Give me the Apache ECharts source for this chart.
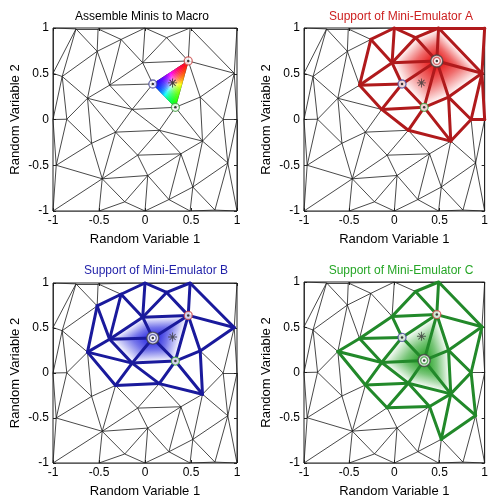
<!DOCTYPE html>
<html><head><meta charset="utf-8">
<script src="https://cdn.jsdelivr.net/npm/echarts/dist/echarts.min.js"></script>
<style>html,body{margin:0;padding:0;background:#fff}#c{width:491px;height:499px}</style>
</head><body><div id="c"></div>
<script>
// ---- data ----
const nodeX = [-1, 1, 1, -1, -0.75, -0.51, 0.0, 0.49, 0.97, 1.0, -1.0, -1.0, -0.965, -0.5, 0.0, 0.76, -0.9, -0.52, -0.26, -0.025, 0.47, 0.235, -0.385, 0.085, 0.33, -0.625, -0.14, 0.6, 0.85, -0.32, 0.155, 0.625, -0.08, 0.39, 0.9, -0.465, 0.03, 0.52, 0.26, -0.22, -0.58, 0.49, -0.85];
const nodeY = [1, 1, -1, -1, 0.99, 0.99, 1.0, 1.0, 0.505, 0.0, 0.505, 0.0, -0.5, -1.0, -1.0, -0.99, 0.47, 0.745, 0.875, 0.62, 0.64, 0.895, 0.375, 0.388, 0.133, 0.232, 0.11, 0.245, 0.0, -0.138, -0.118, -0.236, -0.39, -0.375, -0.475, -0.648, -0.612, -0.738, -0.875, -0.9, -0.26, -1.0, 0.003];
const triangles = [
[0,4,10],[4,16,10],[4,17,16],[4,5,17],[5,18,17],[5,6,18],[6,19,18],[6,21,19],[6,7,21],[7,20,21],
[19,21,20],[7,8,20],[7,1,8],[20,8,27],[19,20,23],[20,24,23],[20,27,24],[19,23,22],[18,19,22],[17,18,22],
[17,22,25],[16,17,25],[10,16,11],[11,16,42],[16,25,42],[25,40,42],[42,40,12],[11,42,12],[12,40,35],[25,29,40],
[29,35,40],[22,26,25],[25,26,29],[22,23,26],[23,24,26],[26,24,30],[26,30,29],[29,30,32],[29,32,35],[24,31,30],
[24,27,31],[8,28,27],[8,9,28],[27,28,31],[28,34,31],[28,9,34],[9,2,34],[34,2,15],[31,34,37],[34,15,37],
[30,31,33],[31,37,33],[30,33,32],[32,33,36],[32,36,35],[33,38,36],[33,37,38],[37,41,38],[37,15,41],[38,41,14],
[36,38,14],[36,14,39],[35,36,39],[35,39,13],[35,13,3],[12,35,3],[13,14,39]
];
const emulatorNodes = [20, 23, 24]; // A, B, C
const starX = [0.3];
const starY = [0.4];
const tickValues = [-1, -0.5, 0, 0.5, 1];
const panelTitles = ['Assemble Minis to Macro', 'Support of Mini-Emulator A', 'Support of Mini-Emulator B', 'Support of Mini-Emulator C'];
const xName = 'Random Variable 1';
const yName = 'Random Variable 2';

// ---- styles ----
const FONT = 'Liberation Sans, Arial, sans-serif';
const grids = [
  {left: 53, top: 28, width: 184, height: 183},
  {left: 304, top: 28, width: 183, height: 183},
  {left: 53, top: 283, width: 184, height: 182},
  {left: 304, top: 282, width: 183, height: 183}
];
const titleCenters = [[137, 6], [396, 6], [151, 260], [396, 260]];
const titleColors = ['#000000', '#cc1f1f', '#1f1fa8', '#26a626'];
const thickColors = [null, '#b01a1c', '#1a1a9c', '#22892a'];
const hatRGB = [null, '228,0,0', '20,20,220', '20,155,20'];
const ringColors = ['#c84646', '#4a4a9a', '#3c9c3c'];

// ---- derived topology ----
function edgesOf(triIdxList) {
  const m = new Map();
  triIdxList.forEach(i => {
    const t = triangles[i];
    for (let k = 0; k < 3; k++) {
      const a = Math.min(t[k], t[(k + 1) % 3]), b = Math.max(t[k], t[(k + 1) % 3]);
      const key = a + '-' + b;
      if (!m.has(key)) m.set(key, [a, b]);
    }
  });
  return Array.from(m.values());
}
const allTri = triangles.map((t, i) => i);
function ringTriangles(k) { return allTri.filter(i => triangles[i].includes(k)); }
function supportTriangles(k) {
  const ring = new Set([k]);
  ringTriangles(k).forEach(i => triangles[i].forEach(v => ring.add(v)));
  return allTri.filter(i => triangles[i].some(v => ring.has(v)));
}
function lineData(edges) {
  return edges.map(([a, b]) => ({coords: [[nodeX[a], nodeY[a]], [nodeX[b], nodeY[b]]]}));
}
function triItem(i) {
  const t = triangles[i];
  return {value: [(nodeX[t[0]] + nodeX[t[1]] + nodeX[t[2]]) / 3, (nodeY[t[0]] + nodeY[t[1]] + nodeY[t[2]]) / 3, i]};
}

function hatRender(k, rgb) {
  return function (params, api) {
    const t = triangles[api.value(2)];
    const o = t.filter(v => v !== k);
    const K = api.coord([nodeX[k], nodeY[k]]);
    const P = api.coord([nodeX[o[0]], nodeY[o[0]]]);
    const Q = api.coord([nodeX[o[1]], nodeY[o[1]]]);
    const dx = Q[0] - P[0], dy = Q[1] - P[1];
    const s = ((K[0] - P[0]) * dx + (K[1] - P[1]) * dy) / (dx * dx + dy * dy);
    const F = [P[0] + s * dx, P[1] + s * dy];
    return {
      type: 'polygon', shape: {points: [K, P, Q]},
      style: {fill: new echarts.graphic.LinearGradient(K[0], K[1], F[0], F[1], [
        {offset: 0, color: 'rgba(' + rgb + ',1)'},
        {offset: 0.5, color: 'rgba(' + rgb + ',0.58)'},
        {offset: 1, color: 'rgba(' + rgb + ',0)'}], true)}
    };
  };
}

function rgbRender(params, api) {
  const [a, b, c] = emulatorNodes; // weights: A->red, B->blue, C->green
  const PA = api.coord([nodeX[a], nodeY[a]]);
  const PB = api.coord([nodeX[b], nodeY[b]]);
  const PC = api.coord([nodeX[c], nodeY[c]]);
  const N = 20, children = [];
  const pt = (wa, wb) => { const wc = 1 - wa - wb; return [wa * PA[0] + wb * PB[0] + wc * PC[0], wa * PA[1] + wb * PB[1] + wc * PC[1]]; };
  const col = (wa, wb) => {
    const wc = 1 - wa - wb; const m = Math.max(wa, wb, wc);
    return 'rgb(' + Math.round(255 * wa / m) + ',' + Math.round(255 * wc / m) + ',' + Math.round(255 * wb / m) + ')';
  };
  for (let i = 0; i < N; i++) {
    for (let j = 0; j < N - i; j++) {
      const p1 = [i / N, j / N], p2 = [(i + 1) / N, j / N], p3 = [i / N, (j + 1) / N];
      const cc = col((p1[0] + p2[0] + p3[0]) / 3, (p1[1] + p2[1] + p3[1]) / 3);
      children.push({type: 'polygon', shape: {points: [pt(...p1), pt(...p2), pt(...p3)]}, style: {fill: cc, stroke: cc, lineWidth: 0.6}});
      if (i + j < N - 1) {
        const q1 = [(i + 1) / N, j / N], q2 = [(i + 1) / N, (j + 1) / N], q3 = [i / N, (j + 1) / N];
        const dc = col((q1[0] + q2[0] + q3[0]) / 3, (q1[1] + q2[1] + q3[1]) / 3);
        children.push({type: 'polygon', shape: {points: [pt(...q1), pt(...q2), pt(...q3)]}, style: {fill: dc, stroke: dc, lineWidth: 0.6}});
      }
    }
  }
  return {type: 'group', children};
}

const asterisk = 'path://M0,4.5L10,4.5L10,5.5L0,5.5Z M4.5,0L5.5,0L5.5,10L4.5,10Z M1.3,2L2,1.3L8.7,8L8,8.7Z M8,1.3L8.7,2L2,8.7L1.3,8Z';

const xAxes = [], yAxes = [], series = [], titles = [];
const meshEdges = edgesOf(allTri);
grids.forEach((g, gi) => {
  const common = {gridIndex: gi, type: 'value', min: -1, max: 1, interval: 0.5,
    axisLine: {show: false, onZero: false}, splitLine: {show: false},
    axisTick: {show: true, inside: true, length: 3, lineStyle: {color: '#222', width: 1}}};
  xAxes.push(Object.assign({}, common, {position: 'bottom',
    axisLabel: {fontSize: 12, color: '#000', margin: 4, fontFamily: FONT},
    name: xName, nameLocation: 'middle', nameGap: 22,
    nameTextStyle: {fontSize: 13, color: '#000', fontFamily: FONT}}));
  xAxes.push(Object.assign({}, common, {position: 'top', axisLabel: {show: false}}));
  yAxes.push(Object.assign({}, common, {position: 'left',
    axisLabel: {fontSize: 12, color: '#000', margin: 4, fontFamily: FONT},
    name: yName, nameLocation: 'middle', nameGap: 31,
    nameTextStyle: {fontSize: 13, color: '#000', fontFamily: FONT}}));
  yAxes.push(Object.assign({}, common, {position: 'right', axisLabel: {show: false}}));
  const xi = gi * 2, yi = gi * 2;
  titles.push({text: panelTitles[gi], left: titleCenters[gi][0], top: titleCenters[gi][1], textAlign: 'center',
    textStyle: {fontSize: 12, fontWeight: 'normal', color: titleColors[gi], fontFamily: FONT}});

  series.push({type: 'lines', coordinateSystem: 'cartesian2d', xAxisIndex: xi, yAxisIndex: yi, silent: true, z: 2,
    lineStyle: {color: '#1a1a1a', width: 0.8, opacity: 1}, data: lineData(meshEdges)});

  if (gi === 0) {
    const abc = allTri.filter(i => emulatorNodes.every(v => triangles[i].includes(v)));
    series.push({type: 'custom', coordinateSystem: 'cartesian2d', xAxisIndex: xi, yAxisIndex: yi, silent: true, z: 3,
      renderItem: rgbRender, data: abc.map(triItem)});
  } else {
    const k = emulatorNodes[gi - 1];
    series.push({type: 'custom', coordinateSystem: 'cartesian2d', xAxisIndex: xi, yAxisIndex: yi, silent: true, z: 3,
      renderItem: hatRender(k, hatRGB[gi]), data: ringTriangles(k).map(triItem)});
    series.push({type: 'lines', coordinateSystem: 'cartesian2d', xAxisIndex: xi, yAxisIndex: yi, silent: true, z: 4,
      lineStyle: {color: thickColors[gi], width: 3, opacity: 1, cap: 'round', join: 'round'},
      data: lineData(edgesOf(supportTriangles(k)))});
  }
  series.push({type: 'scatter', xAxisIndex: xi, yAxisIndex: yi, silent: true, z: 5, symbol: asterisk, symbolSize: 9,
    itemStyle: {color: gi === 0 ? '#111' : '#333'}, data: starX.map((x, i) => [x, starY[i]])});
  emulatorNodes.forEach((k, ei) => {
    const hl = gi === ei + 1;
    if (hl) {
      series.push({type: 'scatter', xAxisIndex: xi, yAxisIndex: yi, silent: true, z: 6, symbol: 'circle', symbolSize: 12,
        itemStyle: {color: '#fff', borderColor: '#444', borderWidth: 1.4}, data: [[nodeX[k], nodeY[k]]]});
    }
    series.push({type: 'scatter', xAxisIndex: xi, yAxisIndex: yi, silent: true, z: 7, symbol: 'circle', symbolSize: hl ? 7 : 8,
      itemStyle: {color: '#fff', borderColor: ringColors[ei], borderWidth: 1.3}, data: [[nodeX[k], nodeY[k]]]});
    series.push({type: 'scatter', xAxisIndex: xi, yAxisIndex: yi, silent: true, z: 8, symbol: 'circle', symbolSize: 2.5,
      itemStyle: {color: '#111'}, data: [[nodeX[k], nodeY[k]]]});
  });
});

const chart = echarts.init(document.getElementById('c'), null, {renderer: 'canvas'});
chart.setOption({
  animation: false,
  backgroundColor: '#fff',
  title: titles,
  grid: grids.map(g => Object.assign({show: true, borderColor: '#222', borderWidth: 1, backgroundColor: 'transparent'}, g)),
  xAxis: xAxes,
  yAxis: yAxes,
  series: series
});
</script></body></html>
